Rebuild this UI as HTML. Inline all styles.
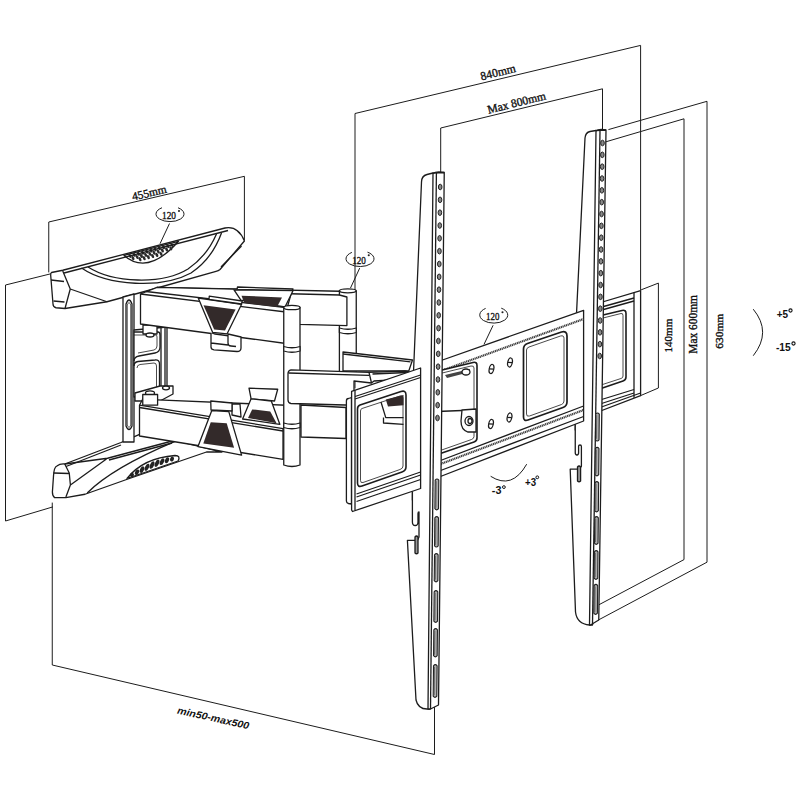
<!DOCTYPE html>
<html><head><meta charset="utf-8">
<style>
html,body{margin:0;padding:0;background:#fff;}
body{width:800px;height:800px;overflow:hidden;}
svg{display:block;}
.s{font-family:"Liberation Serif",serif;fill:#111;stroke:#111;stroke-width:0.35px;}
.b{font-family:"Liberation Sans",sans-serif;fill:#111;font-weight:bold;stroke:none;}
</style></head>
<body>
<svg width="800" height="800" viewBox="0 0 800 800">
<rect width="800" height="800" fill="#fff"/>
<g fill="none" stroke="#1c1c1c" stroke-width="1" stroke-linejoin="round" stroke-linecap="round">
<!-- DIMENSION LINES -->
<path id="wall" d="M52,273.5 L5.5,285 L5.5,521 L52.5,507"/>
<path id="d455" d="M48.75,272 L48.75,222 L244.4,176.3 L244.4,240"/>
<path id="d840" d="M355,388 L355,113.5 L640.6,45.4 L640.6,290"/>
<path id="d800" d="M440.7,173 L440.7,128 L602.5,88.8 L602.5,131"/>
<path id="d630" d="M608.8,129.5 L707,101.3 L707,562.2 L598.4,620"/>
<path id="d600" d="M603.5,142.5 L684,118.8 L684,559.6 L596.6,606"/>
<path id="d140" d="M641.5,289.7 L658.4,283.1 L658.4,388 L640.6,395.6"/>
<path id="dmin" d="M52.25,503 L52.25,665 L434.5,754.5 L434.5,707"/>
<path id="arc5" d="M753.5,309.5 Q772,332 753.5,355.4"/>
<path id="arc3" d="M491,476.5 Q512,490 526.5,464.5"/>
</g>
<g id="layer-parts" fill="#fff" stroke="#1c1c1c" stroke-width="1.3" stroke-linejoin="round">
<!-- UPPER BASE ARM -->
<g id="basearm-up">
<path d="M51.5,272.5 L62.75,270.25 L225,228 Q238,225.5 244.4,241 L220,269.5 Q218.5,270.8 216,271.3 L150,290 L107,301.75 L65,308.5 L56,307.75 Q53,307 53,304 L50.75,276 Q50.5,273 51.5,272.5 Z"/>
<path d="M221,267 L241.5,246" fill="none"/>
<path d="M62.75,271 L70.25,289 L65,308.5 M70.25,289 L107,301.75 M51,280 L64,281.5 M53.5,301 L64.5,302" fill="none"/>
<path d="M81.5,268 C108,286 162,289 191,273 Q212,259 221.5,233" fill="none"/>
<path d="M88,267 C113,283 162,285 188,269 Q207,256 216.5,234" fill="none"/>
<path d="M124,255.4 Q148,276 178.5,241.3 Z" fill="#fff"/>
<g fill="#2a2a2a" stroke="none"><ellipse cx="130.0" cy="255.8" rx="1.3" ry="2.2" transform="rotate(-25 130.0 255.8)"/><ellipse cx="134.2" cy="254.7" rx="1.3" ry="2.2" transform="rotate(-25 134.2 254.7)"/><ellipse cx="138.4" cy="253.7" rx="1.3" ry="2.2" transform="rotate(-25 138.4 253.7)"/><ellipse cx="142.6" cy="252.6" rx="1.3" ry="2.2" transform="rotate(-25 142.6 252.6)"/><ellipse cx="146.8" cy="251.5" rx="1.3" ry="2.2" transform="rotate(-25 146.8 251.5)"/><ellipse cx="151.0" cy="250.4" rx="1.3" ry="2.2" transform="rotate(-25 151.0 250.4)"/><ellipse cx="155.2" cy="249.3" rx="1.3" ry="2.2" transform="rotate(-25 155.2 249.3)"/><ellipse cx="159.4" cy="248.2" rx="1.3" ry="2.2" transform="rotate(-25 159.4 248.2)"/><ellipse cx="163.6" cy="247.1" rx="1.3" ry="2.2" transform="rotate(-25 163.6 247.1)"/><ellipse cx="167.8" cy="246.0" rx="1.3" ry="2.2" transform="rotate(-25 167.8 246.0)"/><ellipse cx="172.0" cy="245.0" rx="1.3" ry="2.2" transform="rotate(-25 172.0 245.0)"/><ellipse cx="133.0" cy="258.1" rx="1.3" ry="2.2" transform="rotate(-25 133.0 258.1)"/><ellipse cx="137.2" cy="257.0" rx="1.3" ry="2.2" transform="rotate(-25 137.2 257.0)"/><ellipse cx="141.4" cy="255.9" rx="1.3" ry="2.2" transform="rotate(-25 141.4 255.9)"/><ellipse cx="145.6" cy="254.8" rx="1.3" ry="2.2" transform="rotate(-25 145.6 254.8)"/><ellipse cx="149.8" cy="253.7" rx="1.3" ry="2.2" transform="rotate(-25 149.8 253.7)"/><ellipse cx="154.0" cy="252.6" rx="1.3" ry="2.2" transform="rotate(-25 154.0 252.6)"/><ellipse cx="158.2" cy="251.5" rx="1.3" ry="2.2" transform="rotate(-25 158.2 251.5)"/><ellipse cx="162.4" cy="250.4" rx="1.3" ry="2.2" transform="rotate(-25 162.4 250.4)"/><ellipse cx="166.6" cy="249.4" rx="1.3" ry="2.2" transform="rotate(-25 166.6 249.4)"/><ellipse cx="170.8" cy="248.3" rx="1.3" ry="2.2" transform="rotate(-25 170.8 248.3)"/><ellipse cx="140.0" cy="259.2" rx="1.3" ry="2.2" transform="rotate(-25 140.0 259.2)"/><ellipse cx="144.2" cy="258.2" rx="1.3" ry="2.2" transform="rotate(-25 144.2 258.2)"/><ellipse cx="148.4" cy="257.1" rx="1.3" ry="2.2" transform="rotate(-25 148.4 257.1)"/><ellipse cx="152.6" cy="256.0" rx="1.3" ry="2.2" transform="rotate(-25 152.6 256.0)"/><ellipse cx="156.8" cy="254.9" rx="1.3" ry="2.2" transform="rotate(-25 156.8 254.9)"/><ellipse cx="161.0" cy="253.8" rx="1.3" ry="2.2" transform="rotate(-25 161.0 253.8)"/></g>
<path d="M64,273 L228,230.5" fill="none"/>
</g>
<!-- LOWER BASE ARM -->
<g id="basearm-low">
<path d="M56.9,466 Q60,463.5 64.75,464 L121,442.5 L139,434.6 L175,440.25 L222,452 L206.5,452 L128,479 L85,494.25 L65.9,497.6 L54.6,497.6 Q52.4,496 52.4,492 L53.5,476 Q54,467 56.9,466 Z"/>
<path d="M64.75,464 L69.25,473 L70.4,485 L65.9,497 M64.75,464 L107.5,458.25 L70.4,485 M107.5,458.25 L175,440.25 M53.5,473 L69,473.5" fill="none"/>
<path d="M66,466.5 L121,445" fill="none"/>
<path d="M87.25,493 Q112,468 175,441.4" fill="none" stroke-width="1.4"/>
<path d="M109,460 L172,443" fill="none"/>
<path d="M127,478.5 Q143,458 175,455.5 Q181,455.5 178,461 L127,478.5 Z" fill="#fff"/>
<g fill="#222" stroke="none"><ellipse cx="132.0" cy="474.9" rx="1.9" ry="2.2" transform="rotate(25 132.0 474.9)"/><ellipse cx="137.0" cy="472.2" rx="1.9" ry="2.9" transform="rotate(25 137.0 472.2)"/><ellipse cx="142.0" cy="469.6" rx="1.9" ry="3.5" transform="rotate(25 142.0 469.6)"/><ellipse cx="147.0" cy="467.3" rx="1.9" ry="3.8" transform="rotate(25 147.0 467.3)"/><ellipse cx="152.0" cy="465.1" rx="1.9" ry="4.0" transform="rotate(25 152.0 465.1)"/><ellipse cx="157.0" cy="463.3" rx="1.9" ry="3.9" transform="rotate(25 157.0 463.3)"/><ellipse cx="162.0" cy="461.7" rx="1.9" ry="3.6" transform="rotate(25 162.0 461.7)"/><ellipse cx="167.0" cy="460.3" rx="1.9" ry="3.1" transform="rotate(25 167.0 460.3)"/><ellipse cx="172.0" cy="459.1" rx="1.9" ry="2.5" transform="rotate(25 172.0 459.1)"/></g>
</g>

<!-- WALL PLATE -->
<g id="wallplate">
<path d="M123,297 L134,294 L134,442 L123,442 Z"/>
<path d="M126,304 Q129,296 132,304 L132,426 Q129,433 126,426 Z" fill="none"/>
<path d="M127.3,305 Q129,300 130.7,305 L130.7,425 Q129,430 127.3,425 Z" fill="none" stroke-width="0.7"/>
<path d="M134,330 L167,327 L167,392 L134,397 Z"/>
<path d="M134,332 L158,332 Q160,332 160,335 L160,347 Q160,352 155,353 L139,356 Q134,357 134,361" fill="none"/>
<path d="M134,335 L156,335 Q157,335 157,337 L157,346 Q157,349 154,350 L138,353" fill="none" stroke-width="0.8"/>
<path d="M134,366 Q134,362 138,361.5 L155,360 Q159.5,359.5 159.5,364 L159.5,389" fill="none"/>
<path d="M137,368 Q137,365 140,364.5 L154,363 Q156.5,363 156.5,366 L156.5,389" fill="none" stroke-width="0.8"/>
<path d="M161,328 L161,390 M165,327.5 L165,389" fill="none"/>
<path d="M143,325 L157,325 L157,334 L143,334 Z"/>
<ellipse cx="150" cy="335" rx="4" ry="2"/>
<path d="M135,393 L160,386 L173,386 L173,394 L160,401 L135,401 Z"/>
<ellipse cx="150" cy="393" rx="4.5" ry="2.2"/>
<ellipse cx="166" cy="388" rx="3.5" ry="1.8"/>
<path d="M143,398 L157,398 L157,405 L143,405 Z"/>
</g>
<!-- PIVOT 2 (tall, back) -->
<g id="pivot2">
<path d="M339.4,290.8 L339.4,372 L356.25,372 L356.25,290.8 Z"/>
<ellipse cx="347.8" cy="290.8" rx="8.4" ry="2"/>
<path d="M339.4,328 Q348,330.5 356.25,328 L356.25,332.5 Q348,335 339.4,332.5 Z"/>
</g>
<!-- BACK UPPER ARM (to pivot 2) -->
<g id="backarm">
<path d="M157,287.4 L339.4,291.25 L339.4,295 L346.9,297 L346.9,325.6 L299,324.4 L292,310 Z"/>
<path d="M290,293.75 L339.4,295" fill="none"/>
</g>
<!-- FRONT UPPER ARM -->
<g id="frontarm">
<path d="M140.5,294 L157,287.4 L292,290.5 L286,312 L286,343.5 L140.5,324 Z"/>
<path d="M140.5,294 L286,312 M146,291.5 L290,308" fill="none"/>
</g>
<!-- patches upper -->
<g id="patches-up">
<path d="M237.5,287 L293,289 L292,291 L237,289.5 Z"/>
<path d="M234,289.8 L293.1,290.5 L285,307 L240.9,300.1 Z"/>
<path d="M241.5,295.7 L282,297.5 L277,307 L244.3,303 Z" fill="#332a2a" stroke="none"/>
<path d="M198.25,298 L241.6,304.25 L227.1,333.8 L212.7,332.45 Z"/>
<path d="M203.5,305.3 L235.6,309.5 L225,330.6 L214.2,329.5 Z" fill="#332a2a" stroke="none"/>
<path d="M209.25,296.2 L242.25,301 L241.5,304 L209,299.3 Z"/>
<path d="M211,333 L211,347 Q211,349.5 214,349.8 L237,351.5 Q241,351.5 241,348 L241,337 L228,334 L228,343 Q228,346 231,346 L236,346.5 M211,343 L228,345" />
</g>
<!-- LOWER ARMS -->
<g id="lowerarms">
<path d="M139.5,405.2 L142.75,399 L157.6,399.9 L292,405.5 L292,428.6 L283,428.6 L283,459.4 L139.5,436 Z"/>
<path d="M139.5,405.2 L283,428.6 M139.5,407.5 L283,431" fill="none"/>
<path d="M142.75,394.5 L157.6,394.5 L157.6,405.2 L142.75,405.2 Z"/>
<path d="M249,388.2 L277.7,389.25 L274.5,401 L251.1,398.8 Z"/>
<path d="M251.1,398.8 L271.3,401 L279.8,424.3 L242.6,419 Z"/>
<path d="M252.2,409.4 L270.25,411.6 L276.6,423.25 L248,418 Z" fill="#332a2a" stroke="none"/>
<path d="M232,404 L240,404 L241,417 L232,415 Z"/>
<path d="M210.75,401 L232,403 L232,411 L211,410 Z"/>
<path d="M211.8,410.5 L228.8,411.6 L241.6,455.1 L198,446.6 Z"/>
<path d="M210.75,422.2 L226.7,423.25 L234.1,447.7 L203.3,443.4 Z" fill="#332a2a" stroke="none"/>
</g>


<!-- PIVOT 1 -->
<g id="pivot1">
<path d="M283.75,307.5 L283.75,465 Q292,468 300,465 L300,307.5 Z"/>
<ellipse cx="291.9" cy="307.5" rx="8.1" ry="2.2"/>
<path d="M283.75,346.5 Q292,349 300,346.5 L300,351 Q292,353.5 283.75,351 Z"/>
<path d="M283.75,423 Q292,425.5 300,423 L300,427.5 Q292,430 283.75,427.5 Z"/>
</g>
<!-- SECOND LINK -->
<g id="link2">
<path d="M343,352 L412.5,360 L408.75,371 L343,371 Z"/>
<path d="M343,354 L410.5,361.8" fill="none"/>
<path d="M301,405 L346,407.5 L346,438.5 L301,437 Z"/>
<path d="M291,369.8 L369,372.3 L405,371 L409,372 L408,379 L374,381 L371.5,383 L354,381 L354,405.25 L291,403.5 Q288,403 288,400 L288,373.5 Q288,370.3 291,369.8 Z"/>
<path d="M288.5,373 L369,375.3 M369,372.3 L371.5,383 M372.5,374 L407,372.5" fill="none"/>
</g>

<path d="M433,173 L427,174.5 Q421.5,176 421.5,182 L413.5,372 L412.4,500 L432,500 L436,173"/>
<path d="M412.4,489 L412.4,522 Q412.4,525.5 415.2,525.5 Q418,525.5 418,522 L418,513.5 Q418,512 419,512 L419,537 L417.5,540.3 L407.4,540.3 L416,700 Q418,709 427,709 L430,709 L432,489"/>
<path d="M596,130.5 L590,131.5 Q585.5,132.5 585,138 L576.5,314 L575.25,430 L595,430 L600,130.5"/>
<path d="M575.25,422 L575.25,452.5 Q575.25,455 577,455 Q578.6,455 578.6,452.5 L578.6,446 Q578.6,445 580,445 Q581.4,445 581.4,446.5 L581.4,466.4 L579.2,469.2 L570.2,469.2 L575.5,612 Q577,624 589.5,625 L592.5,625 L595,422"/>
<path d="M415,537 Q416.5,535 418,537 L418,553 Q416.5,554.5 415,553 Z" fill="#999"/><path d="M577.5,467 Q579,465 580.6,467 L580.6,481 Q579,482.5 577.5,481 Z" fill="#999"/>
<!-- SMALL FRONT PLATE -->
<g id="smallplate">
<path d="M346.4,401 Q346.4,398.5 348.5,398.5 L351.5,397.5 L351.5,504 L348.5,503.5 Q346.4,503 346.4,501 Z"/>
<path d="M351.6,391.4 L420.6,368 L420.6,488.5 L352.5,511.5 L351.6,510 Z"/>
<path d="M355,390.2 L355,510.3" fill="none"/>
<path d="M355,396.5 L420.6,375 M355,399 L420.6,377.5" fill="none"/>
<path d="M360,405 L401,391.5 Q406,390 406,395 L406,467 Q406,470.5 402,472 L362,486 Q357.5,487.5 357.5,483 L357.5,409 Q357.5,406 360,405 Z" fill="#fff" stroke-width="1.6"/>
<path d="M362,408.5 L400,396 Q403,395 403,398 L403,466 Q403,468.5 400,469.5 L363,482.5 Q360.5,483.3 360.5,480.5 L360.5,411 Q360.5,409 362,408.5 Z" fill="none" stroke-width="0.8"/>
<path d="M385.75,399.6 L403.5,395 L403.5,405.25 L388,406.4 Z" fill="#332a2a" stroke="none"/>
<path d="M381,402 L385.75,417.6 L403.5,417.6 M383.5,417.6 L383.5,423 L403.5,424.4" fill="none"/>
<path d="M356.5,494 L420.6,472 M356.5,497 L420.6,475 M356.5,501.5 L420.6,479.5" fill="none"/>
</g>
<!-- MAIN PLATE center -->
<g id="mainplate">
<path d="M434,363 L583.6,310.3 L583.6,421 L434,479 Z"/>
<path d="M434,373.5 L583.6,319" fill="none" stroke="#3a3a3a" stroke-width="2.2" stroke-dasharray="1.2,0.6"/>
<path d="M434,463 L583.6,406 M434,473 L583.6,416.5" fill="none"/>
<path d="M434,466.5 L583.6,410" fill="none" stroke="#3a3a3a" stroke-width="2.2" stroke-dasharray="1.2,0.6"/>
<!-- left cutout -->
<path d="M436,371.5 L473,362.5 Q477,361.5 477,365.5 L477,438 Q477,441 474,442 L436,455" fill="#fff" stroke-width="1.6"/>
<path d="M436,374.5 L471,366 Q474,365.5 474,368 L474,436.5 Q474,438.5 471.5,439.5 L436,452" fill="none" stroke-width="0.8"/>
<path d="M445,375 L470,369 L470,372 L447,378 Z" fill="#444" stroke="none"/>
<path d="M437,411.5 L462,410.5" fill="none"/>
<ellipse cx="466" cy="372" rx="4" ry="3"/>
<path d="M462,410 L476,409 L476,432 L468,432 Q461,430 461,421 Z"/>
<ellipse cx="469" cy="421" rx="4" ry="4.5"/>
<ellipse cx="470" cy="421" rx="2" ry="2.5" fill="none"/>
<!-- right cutout -->
<path d="M527.5,343.5 L561.5,332 Q567,330.5 567,336 L567,402 Q567,406 563,407.5 L528,420 Q523.5,421.5 523.5,417 L523.5,349 Q523.5,345 527.5,343.5 Z" fill="#fff" stroke-width="1.7"/>
<path d="M529,347 L560.5,336 Q564,335 564,338.5 L564,401 Q564,403.5 561.5,404.5 L529.5,416 Q526.5,417 526.5,414 L526.5,350 Q526.5,348 529,347 Z" fill="none" stroke-width="0.8"/>
<!-- theta holes -->
<g stroke-width="1.2" fill="none"><g transform="translate(491.5,369) rotate(12)"><ellipse cx="0" cy="0" rx="2.3" ry="4.6"/><path d="M-2.2,0.3 L2.2,-0.3"/></g><g transform="translate(510,362.5) rotate(12)"><ellipse cx="0" cy="0" rx="2.3" ry="4.6"/><path d="M-2.2,0.3 L2.2,-0.3"/></g><g transform="translate(491,424) rotate(12)"><ellipse cx="0" cy="0" rx="2.3" ry="4.6"/><path d="M-2.2,0.3 L2.2,-0.3"/></g><g transform="translate(509.5,417.5) rotate(12)"><ellipse cx="0" cy="0" rx="2.3" ry="4.6"/><path d="M-2.2,0.3 L2.2,-0.3"/></g></g>
</g>
<!-- MAIN PLATE right part -->
<g id="mainplate-r">
<path d="M594,304.5 L640.6,290.6 L640.6,395.6 L594,413.5 Z"/>
<path d="M634,292.5 L634,397.8" fill="none"/>
<path d="M600,307.5 L634,298 M600,310.5 L634,301" fill="none"/>
<path d="M600,400 L634,389.5 M600,404 L634,393 M600,407.5 L640.6,393" fill="none"/>
<path d="M603,315 L622,310.5 Q626,309.5 626,313.5 L626,377 Q626,380 623,381 L601,388.5" fill="#fff" stroke-width="1.6"/>
<path d="M603,318 L621,313.5 Q623,313 623,315.5 L623,376 Q623,378 621,378.5 L601,385" fill="none" stroke-width="0.8"/>
</g>

<path d="M433,173 L444.25,172.5 L438.5,705 L430.5,709 L428,709 Z"/>
<path d="M436.4,173 L430.5,709" fill="none"/>
<path d="M433,173.5 Q436,171 444.25,172.5" fill="none"/>
<ellipse cx="440.20" cy="187.00" rx="1.8" ry="2.8" fill="#888" stroke="#222" stroke-width="1"/>
<ellipse cx="440.05" cy="199.83" rx="1.8" ry="2.8" fill="#888" stroke="#222" stroke-width="1"/>
<ellipse cx="439.90" cy="212.67" rx="1.8" ry="2.8" fill="#888" stroke="#222" stroke-width="1"/>
<ellipse cx="439.75" cy="225.50" rx="1.8" ry="2.8" fill="#888" stroke="#222" stroke-width="1"/>
<ellipse cx="439.60" cy="238.33" rx="1.8" ry="2.8" fill="#888" stroke="#222" stroke-width="1"/>
<ellipse cx="439.45" cy="251.17" rx="1.8" ry="2.8" fill="#888" stroke="#222" stroke-width="1"/>
<ellipse cx="439.30" cy="264.00" rx="1.8" ry="2.8" fill="#888" stroke="#222" stroke-width="1"/>
<ellipse cx="439.15" cy="276.83" rx="1.8" ry="2.8" fill="#888" stroke="#222" stroke-width="1"/>
<ellipse cx="439.00" cy="289.67" rx="1.8" ry="2.8" fill="#888" stroke="#222" stroke-width="1"/>
<ellipse cx="438.85" cy="302.50" rx="1.8" ry="2.8" fill="#888" stroke="#222" stroke-width="1"/>
<ellipse cx="438.70" cy="315.33" rx="1.8" ry="2.8" fill="#888" stroke="#222" stroke-width="1"/>
<ellipse cx="438.55" cy="328.17" rx="1.8" ry="2.8" fill="#888" stroke="#222" stroke-width="1"/>
<ellipse cx="438.40" cy="341.00" rx="1.8" ry="2.8" fill="#888" stroke="#222" stroke-width="1"/>
<ellipse cx="438.25" cy="353.83" rx="1.8" ry="2.8" fill="#888" stroke="#222" stroke-width="1"/>
<ellipse cx="438.10" cy="366.67" rx="1.8" ry="2.8" fill="#888" stroke="#222" stroke-width="1"/>
<ellipse cx="437.95" cy="379.50" rx="1.8" ry="2.8" fill="#888" stroke="#222" stroke-width="1"/>
<ellipse cx="437.80" cy="392.33" rx="1.8" ry="2.8" fill="#888" stroke="#222" stroke-width="1"/>
<ellipse cx="437.65" cy="405.17" rx="1.8" ry="2.8" fill="#888" stroke="#222" stroke-width="1"/>
<ellipse cx="437.50" cy="418.00" rx="1.8" ry="2.8" fill="#888" stroke="#222" stroke-width="1"/>
<path d="M435.20,480.20 Q437.00,477.90 438.80,480.20 L438.50,508.70 Q436.70,511.00 434.90,508.70 Z" fill="#b0b0b0" stroke="#222" stroke-width="1.1"/>
<path d="M436.20,481.20 L435.90,507.70" fill="none" stroke="#555" stroke-width="0.8"/>
<path d="M434.85,517.80 Q436.65,515.50 438.45,517.80 L438.17,545.80 Q436.37,548.10 434.57,545.80 Z" fill="#b0b0b0" stroke="#222" stroke-width="1.1"/>
<path d="M435.85,518.80 L435.57,544.80" fill="none" stroke="#555" stroke-width="0.8"/>
<path d="M434.52,554.80 Q436.32,552.50 438.12,554.80 L437.85,580.70 Q436.05,583.00 434.25,580.70 Z" fill="#b0b0b0" stroke="#222" stroke-width="1.1"/>
<path d="M435.52,555.80 L435.25,579.70" fill="none" stroke="#555" stroke-width="0.8"/>
<path d="M434.18,591.80 Q435.98,589.50 437.78,591.80 L437.48,621.20 Q435.68,623.50 433.88,621.20 Z" fill="#b0b0b0" stroke="#222" stroke-width="1.1"/>
<path d="M435.18,592.80 L434.88,620.20" fill="none" stroke="#555" stroke-width="0.8"/>
<path d="M433.84,629.80 Q435.64,627.50 437.44,629.80 L437.17,655.70 Q435.37,658.00 433.57,655.70 Z" fill="#b0b0b0" stroke="#222" stroke-width="1.1"/>
<path d="M434.84,630.80 L434.57,654.70" fill="none" stroke="#555" stroke-width="0.8"/>
<path d="M433.51,665.80 Q435.31,663.50 437.11,665.80 L436.80,696.20 Q435.00,698.50 433.20,696.20 Z" fill="#b0b0b0" stroke="#222" stroke-width="1.1"/>
<path d="M434.51,666.80 L434.20,695.20" fill="none" stroke="#555" stroke-width="0.8"/>
<path d="M596,130.5 L606,130 L598.75,620 L590.5,625 L589.5,625 Z"/>
<path d="M600,130.5 L592.5,625" fill="none"/>
<path d="M596,131 Q599,128.5 606,130" fill="none"/>
<ellipse cx="602.50" cy="143.00" rx="1.8" ry="2.8" fill="#888" stroke="#222" stroke-width="1"/>
<ellipse cx="602.34" cy="154.83" rx="1.8" ry="2.8" fill="#888" stroke="#222" stroke-width="1"/>
<ellipse cx="602.19" cy="166.67" rx="1.8" ry="2.8" fill="#888" stroke="#222" stroke-width="1"/>
<ellipse cx="602.03" cy="178.50" rx="1.8" ry="2.8" fill="#888" stroke="#222" stroke-width="1"/>
<ellipse cx="601.88" cy="190.33" rx="1.8" ry="2.8" fill="#888" stroke="#222" stroke-width="1"/>
<ellipse cx="601.72" cy="202.17" rx="1.8" ry="2.8" fill="#888" stroke="#222" stroke-width="1"/>
<ellipse cx="601.57" cy="214.00" rx="1.8" ry="2.8" fill="#888" stroke="#222" stroke-width="1"/>
<ellipse cx="601.41" cy="225.83" rx="1.8" ry="2.8" fill="#888" stroke="#222" stroke-width="1"/>
<ellipse cx="601.26" cy="237.67" rx="1.8" ry="2.8" fill="#888" stroke="#222" stroke-width="1"/>
<ellipse cx="601.10" cy="249.50" rx="1.8" ry="2.8" fill="#888" stroke="#222" stroke-width="1"/>
<ellipse cx="600.94" cy="261.33" rx="1.8" ry="2.8" fill="#888" stroke="#222" stroke-width="1"/>
<ellipse cx="600.79" cy="273.17" rx="1.8" ry="2.8" fill="#888" stroke="#222" stroke-width="1"/>
<ellipse cx="600.63" cy="285.00" rx="1.8" ry="2.8" fill="#888" stroke="#222" stroke-width="1"/>
<ellipse cx="600.48" cy="296.83" rx="1.8" ry="2.8" fill="#888" stroke="#222" stroke-width="1"/>
<ellipse cx="600.32" cy="308.67" rx="1.8" ry="2.8" fill="#888" stroke="#222" stroke-width="1"/>
<ellipse cx="600.17" cy="320.50" rx="1.8" ry="2.8" fill="#888" stroke="#222" stroke-width="1"/>
<ellipse cx="600.01" cy="332.33" rx="1.8" ry="2.8" fill="#888" stroke="#222" stroke-width="1"/>
<ellipse cx="599.86" cy="344.17" rx="1.8" ry="2.8" fill="#888" stroke="#222" stroke-width="1"/>
<ellipse cx="599.70" cy="356.00" rx="1.8" ry="2.8" fill="#888" stroke="#222" stroke-width="1"/>
<path d="M595.70,414.20 Q597.50,411.90 599.30,414.20 L599.02,439.80 Q597.22,442.10 595.42,439.80 Z" fill="#b0b0b0" stroke="#222" stroke-width="1.1"/>
<path d="M596.70,415.20 L596.42,438.80" fill="none" stroke="#555" stroke-width="0.8"/>
<path d="M595.38,448.50 Q597.18,446.20 598.98,448.50 L598.70,474.70 Q596.90,477.00 595.10,474.70 Z" fill="#b0b0b0" stroke="#222" stroke-width="1.1"/>
<path d="M596.38,449.50 L596.10,473.70" fill="none" stroke="#555" stroke-width="0.8"/>
<path d="M595.05,482.80 Q596.85,480.50 598.65,482.80 L598.36,510.70 Q596.56,513.00 594.76,510.70 Z" fill="#b0b0b0" stroke="#222" stroke-width="1.1"/>
<path d="M596.05,483.80 L595.76,509.70" fill="none" stroke="#555" stroke-width="0.8"/>
<path d="M594.73,517.80 Q596.53,515.50 598.33,517.80 L598.06,543.20 Q596.26,545.50 594.46,543.20 Z" fill="#b0b0b0" stroke="#222" stroke-width="1.1"/>
<path d="M595.73,518.80 L595.46,542.20" fill="none" stroke="#555" stroke-width="0.8"/>
<path d="M594.41,551.80 Q596.21,549.50 598.01,551.80 L597.73,578.20 Q595.93,580.50 594.13,578.20 Z" fill="#b0b0b0" stroke="#222" stroke-width="1.1"/>
<path d="M595.41,552.80 L595.13,577.20" fill="none" stroke="#555" stroke-width="0.8"/>
<path d="M594.09,585.55 Q595.89,583.25 597.69,585.55 L597.40,613.20 Q595.60,615.50 593.80,613.20 Z" fill="#b0b0b0" stroke="#222" stroke-width="1.1"/>
<path d="M595.09,586.55 L594.80,612.20" fill="none" stroke="#555" stroke-width="0.8"/>
<g stroke="#1c1c1c" fill="none">
<path d="M162.00,207.76 A14,7.6 0 1 0 178.00,207.76" fill="none" stroke-width="1.0"/>
<path d="M169.5,223.5 L160,243.75" stroke-width="1"/>
<circle cx="179" cy="211" r="1.05" fill="#222" stroke="none"/>
<path d="M351.90,252.39 A14,7.8 0 1 0 367.50,252.16" fill="none" stroke-width="1.0"/>
<path d="M359.7,268.1 L350.5,288" stroke-width="1"/>
<circle cx="368.75" cy="255.3" r="1.05" fill="#222" stroke="none"/>
<path d="M485.60,308.41 A14,8.1 0 1 0 501.25,308.16" fill="none" stroke-width="1.0"/>
<path d="M493.1,325.3 L484,344.4" stroke-width="1"/>
<circle cx="502.5" cy="312.2" r="1.05" fill="#222" stroke="none"/>
</g>
<text class="s" font-size="11.3" transform="translate(162,218.8) rotate(0)" textLength="14" lengthAdjust="spacingAndGlyphs" >120</text>
<text class="s" font-size="11.3" transform="translate(352.2,263.7) rotate(0)" textLength="13.7" lengthAdjust="spacingAndGlyphs" >120</text>
<text class="s" font-size="11.3" transform="translate(486,320.0) rotate(0)" textLength="13.4" lengthAdjust="spacingAndGlyphs" >120</text>
<text class="s" font-size="11.5" transform="translate(133,200.5) rotate(-13.2)" textLength="35" lengthAdjust="spacingAndGlyphs" >455mm</text>
<text class="s" font-size="12" transform="translate(481.6,80.4) rotate(-14)" textLength="35.8" lengthAdjust="spacingAndGlyphs" >840mm</text>
<text class="s" font-size="11.8" transform="translate(488.5,113.7) rotate(-14)" textLength="59.8" lengthAdjust="spacingAndGlyphs" >Max 800mm</text>
<text class="s" font-size="11" transform="translate(672,352.5) rotate(-90)" textLength="33.75" lengthAdjust="spacingAndGlyphs" >140mm</text>
<text class="s" font-size="11.5" transform="translate(697,353.75) rotate(-90)" textLength="58.75" lengthAdjust="spacingAndGlyphs" >Max 600mm</text>
<text class="s" font-size="11" transform="translate(723,348.75) rotate(-90)" textLength="35" lengthAdjust="spacingAndGlyphs" >630mm</text>
<text class="b" font-size="10.3" transform="translate(776.75,317.75) rotate(0)" textLength="11.35" lengthAdjust="spacingAndGlyphs" >+5</text>
<text class="b" font-size="10.3" transform="translate(775.9,351) rotate(0)" textLength="14.85" lengthAdjust="spacingAndGlyphs" >-15</text>
<text class="b" font-size="10" transform="translate(491.8,493.5) rotate(0)" textLength="9.6" lengthAdjust="spacingAndGlyphs" >-3</text>
<text class="b" font-size="10" transform="translate(525,486) rotate(0)" textLength="11" lengthAdjust="spacingAndGlyphs" >+3</text>
<text class="b" font-size="10" transform="translate(176.75,713.5) rotate(12.4)" textLength="73.2" lengthAdjust="spacingAndGlyphs" font-style="italic">min50-max500</text>
<circle cx="790.5" cy="310.5" r="1.6" fill="none" stroke="#111" stroke-width="1.1"/>
<circle cx="793.5" cy="343.5" r="1.6" fill="none" stroke="#111" stroke-width="1.1"/>
<circle cx="503.9" cy="487.1" r="1.4" fill="none" stroke="#111" stroke-width="1.0"/>
<circle cx="537.3" cy="477.3" r="1.4" fill="none" stroke="#111" stroke-width="1.0"/>

</g>
</svg>
</body></html>
